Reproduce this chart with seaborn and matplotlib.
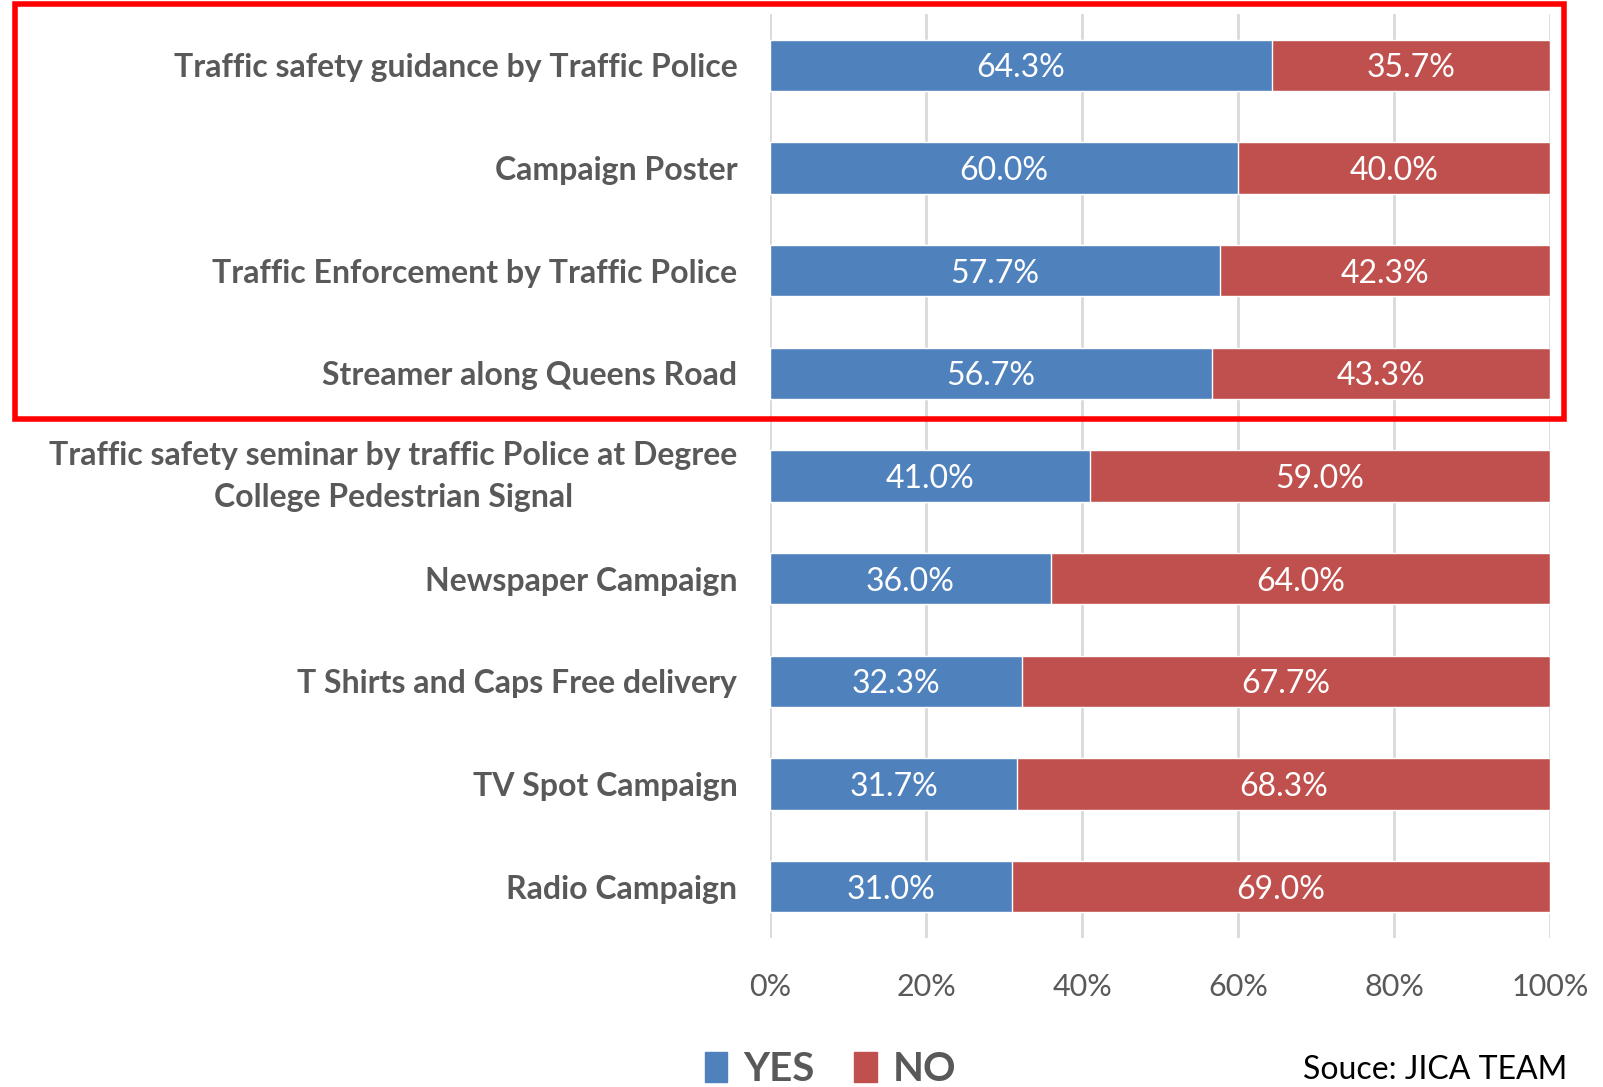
import matplotlib
matplotlib.use("Agg")
import matplotlib.pyplot as plt
import matplotlib.patches as mpatches
import seaborn as sns
import pandas as pd

# data
categories = [
    "Traffic safety guidance by Traffic Police",
    "Campaign Poster",
    "Traffic Enforcement by Traffic Police",
    "Streamer along Queens Road",
    "Traffic safety seminar by traffic Police at Degree\nCollege Pedestrian Signal",
    "Newspaper Campaign",
    "T Shirts and Caps Free delivery",
    "TV Spot Campaign",
    "Radio Campaign",
]
yes_pct = [64.3, 60.0, 57.7, 56.7, 41.0, 36.0, 32.3, 31.7, 31.0]
no_pct = [35.7, 40.0, 42.3, 43.3, 59.0, 64.0, 67.7, 68.3, 69.0]
xticks = [0, 20, 40, 60, 80, 100]

BLUE = "#4F81BD"
RED = "#C0504D"
GRAY = "#595959"

sns.set_theme(style="white")
plt.rcParams["font.family"] = ["Lato", "DejaVu Sans"]

df = pd.DataFrame({"cat": categories, "yes": yes_pct, "no": no_pct})
df["total"] = df["yes"] + df["no"]

fig = plt.figure(figsize=(16.03, 10.87), dpi=100)
ax = fig.add_axes([0.4804, 0.137, 0.4866, 0.850])

# gridlines behind bars
for t in xticks:
    ax.axvline(t, color="#D9D9D9", lw=2, zorder=0)

sns.barplot(data=df, x="total", y="cat", color=RED, orient="h", width=0.5,
            saturation=1, ax=ax, zorder=2)
sns.barplot(data=df, x="yes", y="cat", color=BLUE, orient="h", width=0.5,
            saturation=1, ax=ax, zorder=3)

for i, (y, n) in enumerate(zip(yes_pct, no_pct)):
    ax.text(y / 2, i, f"{y:.1f}%", ha="center", va="center_baseline", color="white",
            fontsize=23, zorder=4)
    ax.text(y + n / 2, i, f"{n:.1f}%", ha="center", va="center_baseline", color="white",
            fontsize=23, zorder=4)

ax.set_xlim(0, 100)
ax.set_ylim(len(categories) - 0.5, -0.5)
ax.set_xticks(xticks)
ax.set_xticklabels([f"{t}%" for t in xticks], fontsize=22, color=GRAY)
ax.tick_params(axis="x", length=0, pad=25)
ax.tick_params(axis="y", length=0)
ax.set_yticklabels([])

# category labels drawn as text so the two-line one can be centred
for i, c in enumerate(categories):
    va = "center" if "\n" in c else "center_baseline"
    ax.text(-0.042, i, c, transform=ax.get_yaxis_transform(), ha="right", va=va,
            multialignment="center", fontsize=23, color=GRAY, fontweight="bold",
            linespacing=1.55)

ax.set_xlabel("")
ax.set_ylabel("")
for s in ax.spines.values():
    s.set_visible(False)

# red highlight box
fig.patches.append(mpatches.Rectangle((15 / 1603, 1 - 419 / 1087), 1549 / 1603, 415 / 1087,
                                      transform=fig.transFigure, fill=False,
                                      edgecolor="#FF0000", lw=4, zorder=10))

# legend
handles = [mpatches.Patch(color=BLUE, label="YES"), mpatches.Patch(color=RED, label="NO")]
leg = fig.legend(handles=handles, loc="center", bbox_to_anchor=(0.518, 0.016), ncol=2,
                 frameon=False, prop={"size": 29, "weight": "bold"},
                 handlelength=0.55, handleheight=0.75, handletextpad=0.4, columnspacing=1.0)
for txt in leg.get_texts():
    txt.set_color(GRAY)

fig.text(0.978, 0.016, "Souce: JICA TEAM", ha="right", va="center", fontsize=23, color="black")

fig.savefig("out.png", dpi=100)
